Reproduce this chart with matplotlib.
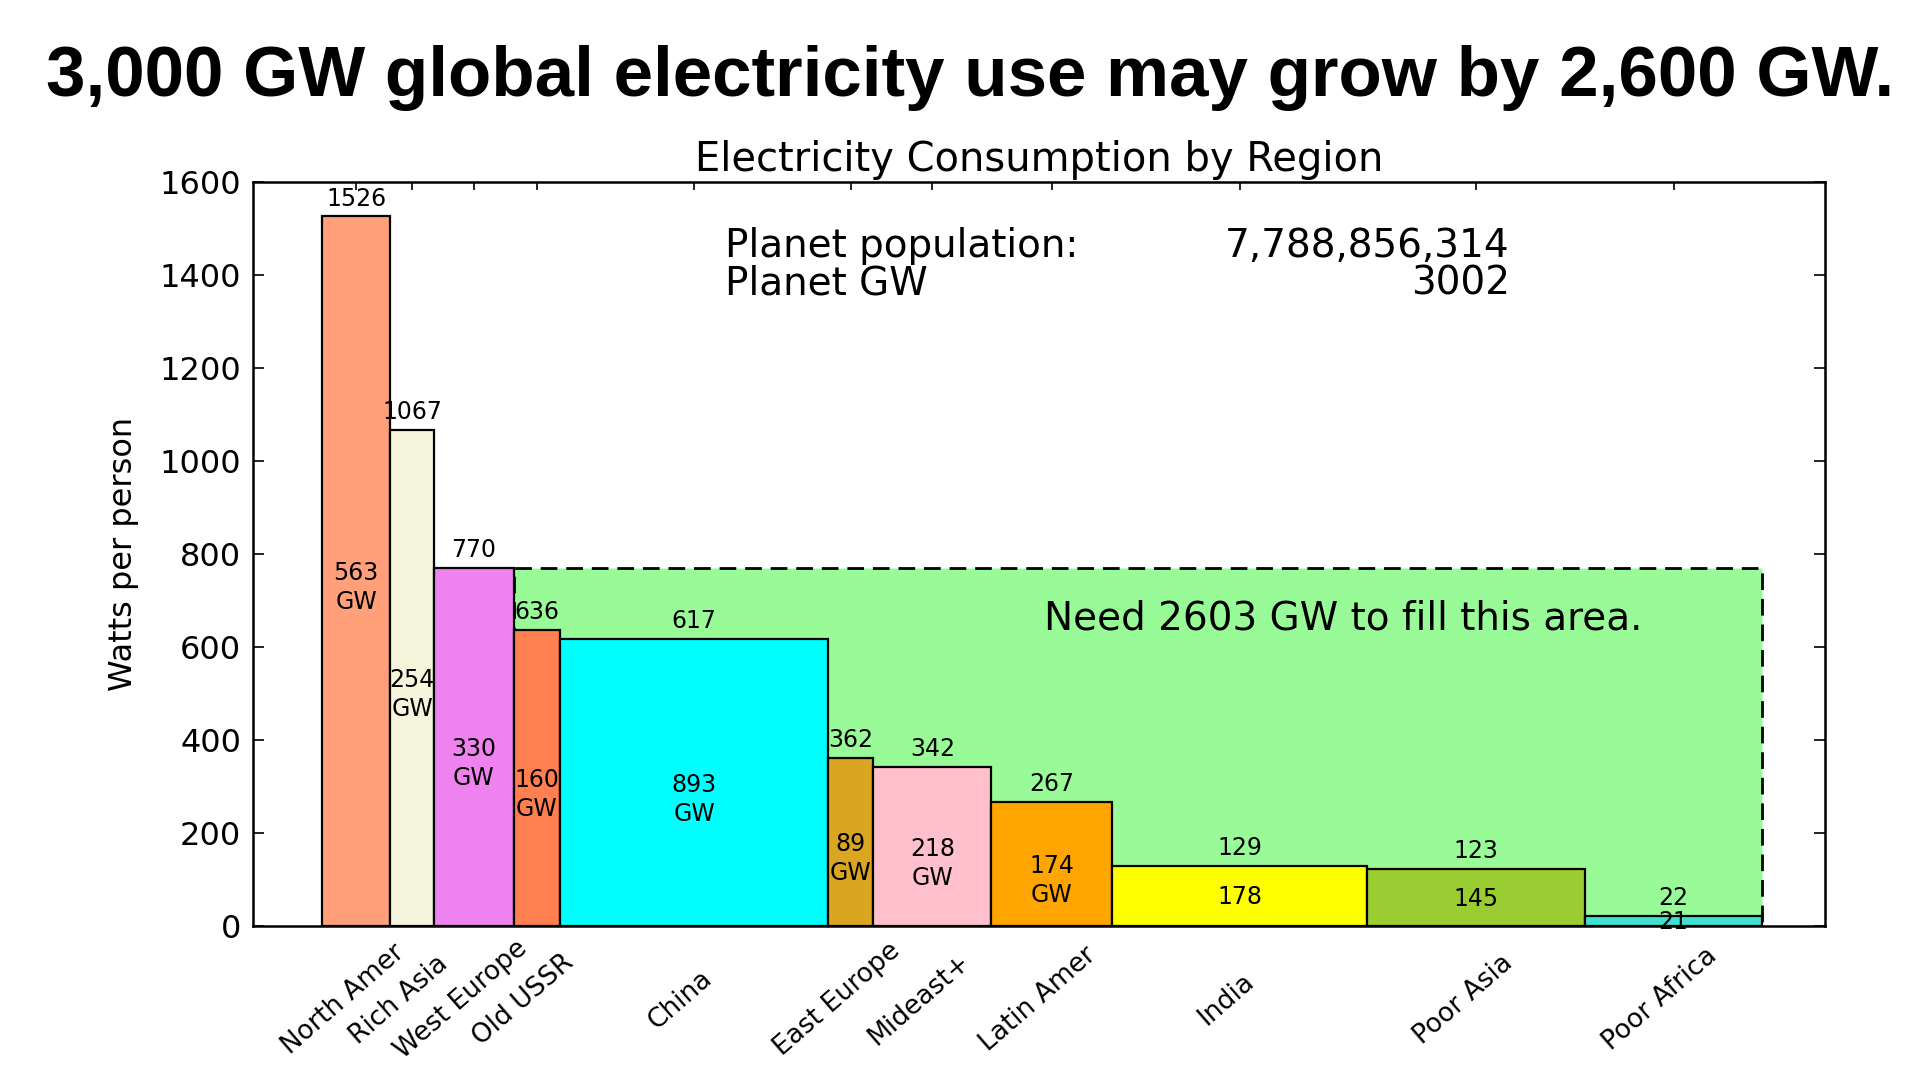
import numpy as np
import matplotlib
matplotlib.use('Agg')
import matplotlib.pyplot as plt

# ---------------- data ----------------
regions = ['North Amer', 'Rich Asia', 'West Europe', 'Old USSR', 'China',
           'East Europe', 'Mideast+', 'Latin Amer', 'India', 'Poor Asia', 'Poor Africa']
watts_per_person = [1526, 1067, 770, 636, 617, 362, 342, 267, 129, 123, 22]
region_gw = [563, 254, 330, 160, 893, 89, 218, 174, 178, 145, 21]
bar_colors = ['lightsalmon', 'beige', 'violet', 'coral', 'cyan', 'goldenrod',
              'pink', 'orange', 'yellow', 'yellowgreen', 'turquoise']
planet_population = '7,788,856,314'
planet_gw = 3002
fill_gw = 2603
fill_level_region = 'West Europe'
y_ticks = [0, 200, 400, 600, 800, 1000, 1200, 1400, 1600]
headline = '3,000 GW global electricity use may grow by 2,600 GW.'
chart_title = 'Electricity Consumption by Region'
y_label = 'Watts per person'

# ---------------- derived ----------------
watts = np.array(watts_per_person, dtype=float)
gw = np.array(region_gw, dtype=float)
widths = gw / watts                      # population in billions
lefts = np.concatenate([[0.0], np.cumsum(widths)[:-1]])
centers = lefts + widths / 2
total = lefts[-1] + widths[-1]
k = regions.index(fill_level_region)
fill_level = watts[k]
fill_start = lefts[k] + widths[k]

plt.rcParams['font.family'] = ['DejaVu Sans']

fig = plt.figure(figsize=(19.2, 10.8), dpi=100)
fig.patch.set_facecolor('white')
ax = fig.add_axes([253 / 1920, 1 - 926 / 1080, (1825 - 253) / 1920, (926 - 182) / 1080])

# green area to fill
ax.bar(fill_start, fill_level, width=total - fill_start, align='edge',
       color='palegreen', edgecolor='black', linewidth=2,
       linestyle=(0, (6, 3.2)), zorder=1)

# region bars
ax.bar(lefts, watts, width=widths, align='edge', color=bar_colors,
       edgecolor='black', linewidth=1.6, zorder=2)

lab_fs = 17
for c, w, g in zip(centers, watts, gw):
    ax.annotate(f'{int(w)}', xy=(c, w), xytext=(0, 12.8), textcoords='offset points',
                ha='center', va='center', fontsize=lab_fs, zorder=5)
    if w > 200:
        ax.annotate(f'{int(g)}\nGW', xy=(c, w / 2), xytext=(0, -12),
                    textcoords='offset points', ha='center', va='center',
                    fontsize=lab_fs, linespacing=1.25, zorder=5)
    else:
        ax.annotate(f'{int(g)}', xy=(c, w / 2), xytext=(0, -1),
                    textcoords='offset points', ha='center', va='center',
                    fontsize=lab_fs, zorder=5)

# region labels (rotated)
for c, name in zip(centers, regions):
    ax.annotate(name, xy=(c, 0), xycoords=('data', 'axes fraction'),
                xytext=(-9.5, -53), textcoords='offset points',
                rotation=41, rotation_mode='anchor', ha='center', va='center',
                fontsize=19, annotation_clip=False)

# info texts
info_fs = 28
ax.text(2.18, 1462, 'Planet population:', fontsize=info_fs, ha='left', va='center')
ax.text(6.42, 1462, planet_population, fontsize=info_fs, ha='right', va='center')
ax.text(2.18, 1381, 'Planet GW', fontsize=info_fs, ha='left', va='center')
ax.text(6.42, 1381, f'{planet_gw}', fontsize=info_fs, ha='right', va='center')
ax.text(5.52, 662, f'Need {fill_gw} GW to fill this area.', fontsize=info_fs,
        ha='center', va='center', zorder=5)

# axes styling
ax.set_xlim(-0.373, 8.124)
ax.set_ylim(0, 1600)
ax.set_yticks(y_ticks)
ax.set_xticks(centers)
ax.tick_params(axis='x', direction='in', length=5.8, width=1.2, top=True,
               labelbottom=False)
ax.tick_params(axis='y', direction='in', length=8, width=1.2, right=True,
               labelsize=23, pad=8.5)
for s in ax.spines.values():
    s.set_linewidth(1.8)
ax.set_title(chart_title, fontsize=28.8, pad=8)
ax.set_ylabel(y_label, fontsize=23)
ax.yaxis.set_label_coords(-0.0728, 0.5)

fig.text(0.505, 1 - 96 / 1080, headline, ha='center', va='baseline',
         fontsize=51, fontweight='bold', family=['Liberation Sans', 'DejaVu Sans'])

fig.savefig('out.png', dpi=100, facecolor='white')
